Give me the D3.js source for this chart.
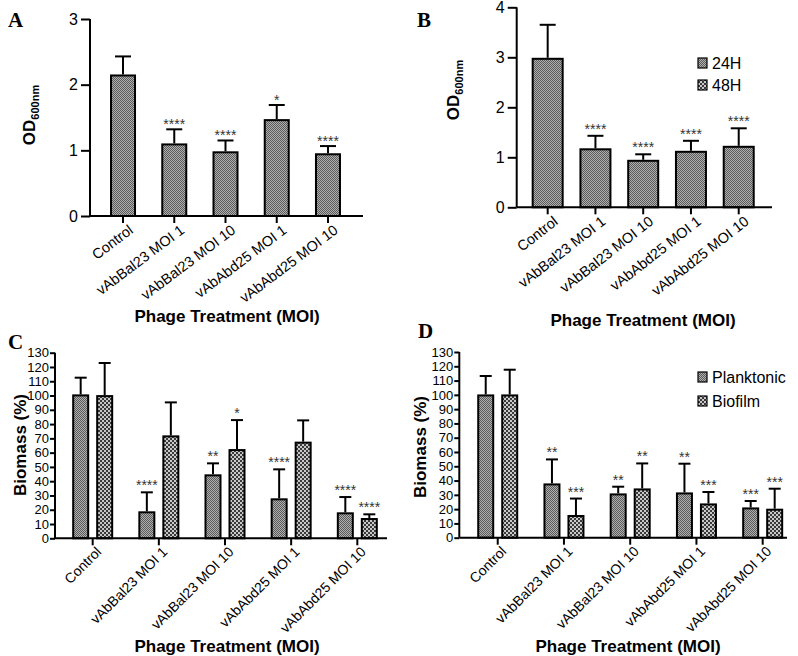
<!DOCTYPE html>
<html>
<head>
<meta charset="utf-8">
<script src="https://cdn.jsdelivr.net/npm/d3@7"></script>
<style>
  body { margin: 0; background: #fff; }
  text { font-family: "Liberation Sans", Arial, sans-serif; }
</style>
</head>
<body>
<svg id="chart" width="798" height="656"></svg>
<script>
var groups = ["Control", "vAbBal23 MOI 1", "vAbBal23 MOI 10", "vAbAbd25 MOI 1", "vAbAbd25 MOI 10"]

// panel A
var aMean = [2.14, 1.09, 0.97, 1.46, 0.94]
var aErr = [2.43, 1.32, 1.15, 1.69, 1.065]
var aSig = ["", "****", "****", "*", "****"]
var aTicks = [0, 1, 2, 3]

// panel B
var bMean = [2.97, 1.16, 0.93, 1.11, 1.21]
var bErr = [3.65, 1.43, 1.06, 1.33, 1.58]
var bSig = ["", "****", "****", "****", "****"]
var bTicks = [0, 1, 2, 3, 4]
var bLegend = ["24H", "48H"]

// panel C
var cPlank = [100.1, 18.2, 44.1, 27.3, 17.5]
var cPlankErr = [112.5, 32.2, 52.5, 48.3, 28.9]
var cBio = [99.6, 71.4, 61.8, 67, 13.5]
var cBioErr = [122.8, 95.2, 82.8, 82.6, 16.8]
var cPlankSig = ["", "****", "**", "****", "****"]
var cBioSig = ["", "", "*", "", "****"]

// panel D
var dPlank = [99.6, 37.3, 30.3, 31, 20.5]
var dPlankErr = [113.2, 54.8, 35.7, 51.8, 25.7]
var dBio = [99.6, 15.2, 33.8, 23.3, 19.6]
var dBioErr = [117.6, 27.4, 52, 32, 34.3]
var dPlankSig = ["", "**", "**", "**", "***"]
var dBioSig = ["", "***", "**", "***", "***"]
var dLegend = ["Planktonic", "Biofilm"]

var biomassTicks = d3.range(0, 131, 10)

var svg = d3.select("#chart")
var defs = svg.append("defs")

// fine checker (24H / planktonic)
var fine = defs.append("pattern").attr("id", "fine")
  .attr("width", 2).attr("height", 2).attr("patternUnits", "userSpaceOnUse")
fine.append("rect").attr("width", 2).attr("height", 2).attr("fill", "#b0b0b0")
fine.append("rect").attr("width", 1).attr("height", 1).attr("fill", "#5a5a5a")
fine.append("rect").attr("x", 1).attr("y", 1).attr("width", 1).attr("height", 1).attr("fill", "#5a5a5a")

// coarse checker (48H / biofilm)
var coarse = defs.append("pattern").attr("id", "coarse")
  .attr("width", 4).attr("height", 4).attr("patternUnits", "userSpaceOnUse")
coarse.append("rect").attr("width", 4).attr("height", 4).attr("fill", "#c8c8c8")
coarse.append("rect").attr("width", 2).attr("height", 2).attr("fill", "#3a3a3a")
coarse.append("rect").attr("x", 2).attr("y", 2).attr("width", 2).attr("height", 2).attr("fill", "#3a3a3a")

function drawPanel(p) {
  var g = svg.append("g")
  var x = d3.scaleBand().domain(groups).range(p.xr)
  var y = d3.scaleLinear().domain(p.ydom).range(p.yr)

  // bars for each series
  p.series.forEach(function (s) {
    var bars = g.append("g").selectAll("g").data(groups).enter().append("g")
    bars.append("rect")
      .attr("x", d => x(d) + x.bandwidth() / 2 + s.off - p.bw / 2)
      .attr("y", (d, i) => y(s.mean[i]))
      .attr("width", p.bw)
      .attr("height", (d, i) => y(0) - y(s.mean[i]))
      .attr("fill", "url(#" + s.pat + ")")
      .attr("stroke", "#000").attr("stroke-width", 2)
    bars.append("line")
      .attr("x1", d => x(d) + x.bandwidth() / 2 + s.off)
      .attr("x2", d => x(d) + x.bandwidth() / 2 + s.off)
      .attr("y1", (d, i) => y(s.mean[i]) - 1)
      .attr("y2", (d, i) => y(s.err[i]))
      .attr("stroke", "#000").attr("stroke-width", 2)
    bars.append("line")
      .attr("x1", d => x(d) + x.bandwidth() / 2 + s.off - p.cap / 2)
      .attr("x2", d => x(d) + x.bandwidth() / 2 + s.off + p.cap / 2)
      .attr("y1", (d, i) => y(s.err[i]))
      .attr("y2", (d, i) => y(s.err[i]))
      .attr("stroke", "#000").attr("stroke-width", 2)
    bars.append("text")
      .attr("x", d => x(d) + x.bandwidth() / 2 + s.off)
      .attr("y", (d, i) => y(s.err[i]) - p.sigGap)
      .attr("text-anchor", "middle")
      .attr("font-size", 14)
      .attr("fill", "#333")
      .text((d, i) => s.sig[i])
  })

  // y axis
  var yAxis = g.append("g").attr("transform", "translate(" + p.ax + ",0)")
    .call(d3.axisLeft(y).tickValues(p.yticks).tickSize(p.tick).tickPadding(p.tpad).tickFormat(d3.format("d")))
  yAxis.select(".domain").attr("stroke-width", 2).attr("d", "M0," + y(p.ydom[1]) + "V" + y(0))
  yAxis.selectAll(".tick line").attr("stroke-width", 2)
  yAxis.selectAll("text").attr("font-size", p.yfs).attr("fill", "#000")
    .style("font-family", "'Liberation Sans', Arial, sans-serif")

  // x axis
  var xAxis = g.append("g").attr("transform", "translate(0," + y(0) + ")")
    .call(d3.axisBottom(x).tickSize(7).tickPadding(2))
  xAxis.select(".domain").attr("stroke-width", 2).attr("d", "M" + p.ax + ",0H" + p.axEnd)
  xAxis.selectAll(".tick line").attr("stroke-width", 2)
  xAxis.selectAll("text")
    .attr("font-size", p.xfs).attr("fill", "#000")
    .style("font-family", "'Liberation Sans', Arial, sans-serif")
    .attr("text-anchor", "end")
    .attr("dy", "0.35em")
    .attr("transform", "translate(" + p.lab[0] + "," + p.lab[1] + ") rotate(" + p.angle + ")")
    .attr("y", 0)

  // x title
  g.append("text")
    .attr("x", p.xtx).attr("y", p.xty)
    .attr("text-anchor", "middle")
    .attr("font-size", 17).attr("font-weight", "bold")
    .text("Phage Treatment (MOI)")

  // y title
  var yt = g.append("text")
    .attr("transform", "translate(" + p.ytx + "," + p.yty + ") rotate(-90)")
    .attr("text-anchor", "middle")
    .attr("font-size", 17).attr("font-weight", "bold")
  if (p.od) {
    yt.append("tspan").text("OD")
    yt.append("tspan").attr("font-size", 11).attr("dy", 4).text("600nm")
  } else {
    yt.text("Biomass (%)")
  }

  // panel letter
  g.append("text")
    .attr("x", p.lx).attr("y", p.ly)
    .style("font-family", "'Liberation Serif', 'Times New Roman', serif")
    .attr("font-size", 21).attr("font-weight", "bold")
    .text(p.letter)

  // legend
  if (p.legend) {
    var lg = g.append("g").selectAll("g").data(p.legend).enter().append("g")
      .attr("transform", (d, i) => "translate(" + p.legX + "," + (p.legY + i * p.legStep) + ")")
    lg.append("rect")
      .attr("x", 0).attr("y", -5).attr("width", 9).attr("height", 10)
      .attr("fill", (d, i) => i == 0 ? "url(#fine)" : "url(#coarse)")
      .attr("stroke", "#000").attr("stroke-width", 1.2)
    lg.append("text")
      .attr("x", 14).attr("y", 0).attr("dy", "0.35em")
      .attr("font-size", 16)
      .text(d => d)
  }
}

drawPanel({
  letter: "A", lx: 8, ly: 27,
  xr: [97.4, 353.6], ax: 90, axEnd: 363,
  ydom: [0, 3], yr: [216, 19], yticks: aTicks, tick: 9, tpad: 3, yfs: 16,
  bw: 24, cap: 16, sigGap: 0,
  xfs: 14.5, angle: -37, lab: [8, 12],
  series: [{ mean: aMean, err: aErr, sig: aSig, off: 0, pat: "fine" }],
  xtx: 227, xty: 322, ytx: 35, yty: 115, od: true
})

drawPanel({
  letter: "B", lx: 417, ly: 27,
  xr: [523.8, 762.6], ax: 516.7, axEnd: 772,
  ydom: [0, 4], yr: [207.3, 7.3], yticks: bTicks, tick: 9, tpad: 3, yfs: 16,
  bw: 30, cap: 16, sigGap: 2,
  xfs: 14.5, angle: -38, lab: [8, 12],
  series: [{ mean: bMean, err: bErr, sig: bSig, off: 0, pat: "fine" }],
  xtx: 643, xty: 326, ytx: 459, yty: 90, od: true,
  legend: bLegend, legX: 698, legY: 63, legStep: 22
})

drawPanel({
  letter: "C", lx: 8, ly: 349,
  xr: [59.6, 390.4], ax: 55, axEnd: 387,
  ydom: [0, 130], yr: [538.3, 352.7], yticks: biomassTicks, tick: 5, tpad: 1, yfs: 13,
  bw: 15, cap: 12, sigGap: 2,
  xfs: 14, angle: -45, lab: [6, 11],
  series: [
    { mean: cPlank, err: cPlankErr, sig: cPlankSig, off: -12, pat: "fine" },
    { mean: cBio, err: cBioErr, sig: cBioSig, off: 12, pat: "coarse" }
  ],
  xtx: 227, xty: 652, ytx: 26, yty: 445, od: false
})

drawPanel({
  letter: "D", lx: 418, ly: 338,
  xr: [464.6, 795.8], ax: 459.3, axEnd: 787,
  ydom: [0, 130], yr: [537.7, 352], yticks: biomassTicks, tick: 5, tpad: 1, yfs: 13,
  bw: 15, cap: 12, sigGap: 2,
  xfs: 14, angle: -45, lab: [6, 11],
  series: [
    { mean: dPlank, err: dPlankErr, sig: dPlankSig, off: -12, pat: "fine" },
    { mean: dBio, err: dBioErr, sig: dBioSig, off: 12, pat: "coarse" }
  ],
  xtx: 628, xty: 652, ytx: 426, yty: 447, od: false,
  legend: dLegend, legX: 698, legY: 377, legStep: 24
})
</script>
</body>
</html>
